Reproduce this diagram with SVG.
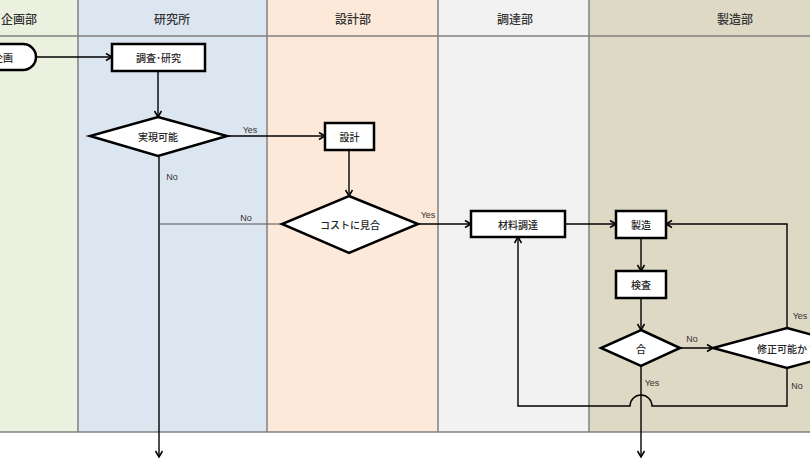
<svg xmlns="http://www.w3.org/2000/svg" width="810" height="459" viewBox="0 0 810 459">
<defs>
<marker id="arr" markerWidth="10" markerHeight="10" refX="8" refY="5" orient="auto" markerUnits="userSpaceOnUse">
<path d="M2,1.5 L8,5 L2,8.5" fill="none" stroke="#000" stroke-width="1.5"/>
</marker>
</defs>
<style>
.hdr{font-family:"Noto Sans CJK JP","Noto Sans",sans-serif;font-size:12px;font-weight:500;fill:#333;text-anchor:middle;dominant-baseline:central}
.nt{font-family:"Noto Sans CJK JP","Noto Sans",sans-serif;font-size:10px;font-weight:500;fill:#262626;text-anchor:middle;dominant-baseline:central}
.lb{font-family:"Liberation Sans","Noto Sans CJK JP",sans-serif;font-size:9px;fill:#333;text-anchor:middle;dominant-baseline:central}
.box{fill:#fff;stroke:#000;stroke-width:2.5}
.cn{fill:none;stroke:#000;stroke-width:1.4}
.cnt{fill:none;stroke:#555;stroke-width:1}
.lane{stroke:none}
.sep{stroke:#808080;stroke-width:1.5;fill:none}
</style>
<rect width="810" height="459" fill="#fff"/>
<g id="lanes">
<rect class="lane" x="0" y="0" width="78" height="432" fill="#ebf1de"/>
<rect class="lane" x="78" y="0" width="189" height="432" fill="#dce6f1"/>
<rect class="lane" x="267" y="0" width="171" height="432" fill="#fde9d9"/>
<rect class="lane" x="438" y="0" width="151" height="432" fill="#f2f2f2"/>
<rect class="lane" x="589" y="0" width="221" height="432" fill="#ddd9c4"/>
<path class="sep" d="M0,36 H810 M0,432 H810 M78,0 V432 M267,0 V432 M438,0 V432 M589,0 V432"/>
<text class="hdr" x="19" y="18">企画部</text>
<text class="hdr" x="172" y="18">研究所</text>
<text class="hdr" x="353" y="18">設計部</text>
<text class="hdr" x="515" y="18">調達部</text>
<text class="hdr" x="735" y="18">製造部</text>
</g>
<g id="connectors">
<path class="cn" d="M36,57 H112" marker-end="url(#arr)"/>
<path class="cn" d="M158,71 V117" marker-end="url(#arr)"/>
<path class="cn" d="M227,136 H325" marker-end="url(#arr)"/>
<text class="lb" x="250" y="130">Yes</text>
<path class="cn" d="M349,150 V196" marker-end="url(#arr)"/>
<path class="cn" d="M159,156 V457" marker-end="url(#arr)"/>
<text class="lb" x="172" y="177">No</text>
<path class="cnt" d="M282,224 H159"/>
<text class="lb" x="246" y="218">No</text>
<path class="cn" d="M418,224 H471" marker-end="url(#arr)"/>
<text class="lb" x="428" y="215">Yes</text>
<path class="cn" d="M565,224 H616" marker-end="url(#arr)"/>
<path class="cn" d="M641,238 V271" marker-end="url(#arr)"/>
<path class="cn" d="M641,298 V330" marker-end="url(#arr)"/>
<path class="cn" d="M680,348 H713" marker-end="url(#arr)"/>
<text class="lb" x="692" y="339">No</text>
<path class="cn" d="M787,328 V224 H666" marker-end="url(#arr)"/>
<text class="lb" x="800" y="316">Yes</text>
<path class="cn" d="M787,368 V406 H652 A11,11 0 0 0 630,406 H518 V237" marker-end="url(#arr)"/>
<text class="lb" x="797" y="386">No</text>
<path class="cn" d="M641,366 V457" marker-end="url(#arr)"/>
<text class="lb" x="652" y="383">Yes</text>
</g>
<g id="n-kikaku">
<rect class="box" x="-30" y="44" width="66" height="26" rx="13"/>
<text class="nt" x="3" y="57">企画</text>
</g>
<g id="n-chosa">
<rect class="box" x="112" y="44" width="93" height="27"/>
<text class="nt" x="158.5" y="57.5">調査･研究</text>
</g>
<g id="n-jitsugen">
<polygon class="box" points="158,117 227,136 158,156 90,136"/>
<text class="nt" x="158" y="136">実現可能</text>
</g>
<g id="n-sekkei">
<rect class="box" x="325" y="123" width="49" height="27"/>
<text class="nt" x="349.5" y="136.5">設計</text>
</g>
<g id="n-cost">
<polygon class="box" points="349,196 418,224 349,253 282,224"/>
<text class="nt" x="350" y="224">コストに見合</text>
</g>
<g id="n-zairyo">
<rect class="box" x="471" y="211" width="94" height="26"/>
<text class="nt" x="518" y="224">材料調達</text>
</g>
<g id="n-seizo">
<rect class="box" x="616" y="211" width="50" height="27"/>
<text class="nt" x="641" y="224.5">製造</text>
</g>
<g id="n-kensa">
<rect class="box" x="616" y="271" width="50" height="27"/>
<text class="nt" x="641" y="284.5">検査</text>
</g>
<g id="n-go">
<polygon class="box" points="641,330 680,348 641,366 601,348"/>
<text class="nt" x="641" y="348">合</text>
</g>
<g id="n-shusei">
<polygon class="box" points="787,328 861,348 787,368 713,348"/>
<text class="nt" x="787" y="348">修正可能か？</text>
</g>
</svg>
